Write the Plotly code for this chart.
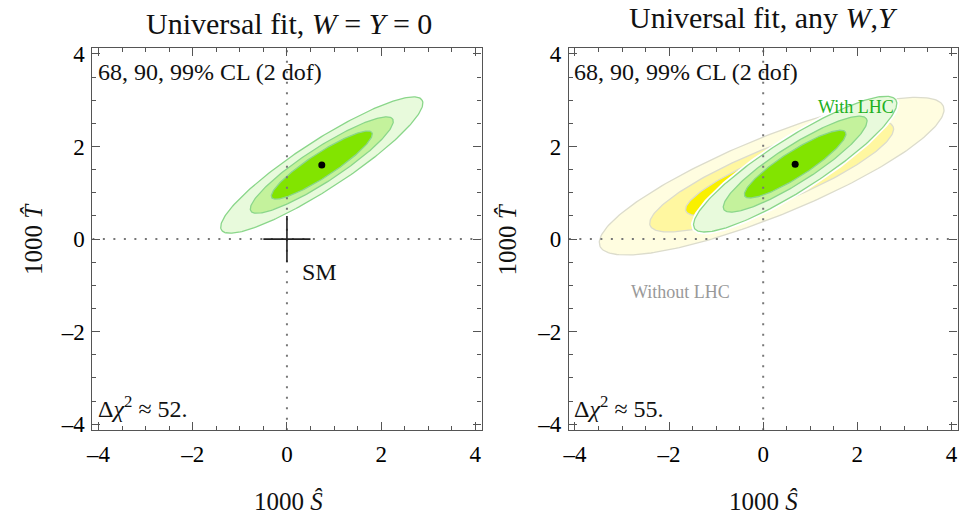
import numpy as np
import plotly.graph_objects as go

# ---------------- data ----------------
CL_LABELS = ["99%", "90%", "68%"]
DCHI2 = [9.21, 4.61, 2.30]          # 2-dof chi^2 thresholds (outer -> inner)

# left panel: W = Y = 0 fit (99% CL ellipse parameters)
FIT_L_CENTER = [0.74, 1.60]
FIT_L_AXES = [2.55, 0.52]           # semi-major, semi-minor at 99% CL
FIT_L_ANGLE = 33.5                  # degrees

# right panel: any W,Y — with LHC
FIT_R_CENTER = [0.68, 1.62]
FIT_R_AXES = [2.55, 0.56]
FIT_R_ANGLE = 33.0

# right panel: any W,Y — without LHC
NOLHC_CENTER = [0.18, 1.36]
NOLHC_AXES = [3.95, 0.85]
NOLHC_ANGLE = 22.5

SM_POINT = [0.0, 0.0]
SM_HALF = 0.5
DCHI2_SM = ["52.", "55."]
TICKS = [-4, -2, 0, 2, 4]
TICK_TEXT = ["–4", "–2", "0", "2", "4"]
RANGE = [-4.13, 4.13]

GREEN_FILLS = ["#e8fadc", "#c4f29c", "#82e400"]
GREEN_EDGE = "#8ad68a"
YELLOW_FILLS = ["#fffde0", "#fff7a0", "#f9f000"]
YELLOW_EDGE = "#dcdccc"

FONT = "Liberation Serif"
W, H = 959, 528


def ellipse(center, axes, angle, scale):
    t = np.linspace(0, 2 * np.pi, 241)
    a, b = axes[0] * scale, axes[1] * scale
    th = np.deg2rad(angle)
    x = center[0] + a * np.cos(t) * np.cos(th) - b * np.sin(t) * np.sin(th)
    y = center[1] + a * np.cos(t) * np.sin(th) + b * np.sin(t) * np.cos(th)
    return x, y


fig = go.Figure()


def add_region(center, axes, angle, fills, edge, xa, ya, halo=False):
    for i, (d, col) in enumerate(zip(DCHI2, fills)):
        s = np.sqrt(d / DCHI2[0])
        x, y = ellipse(center, axes, angle, s)
        if halo and i == 0:
            fig.add_trace(go.Scatter(x=x, y=y, mode="lines", fill="toself", fillcolor=col,
                                     line=dict(color="white", width=5), hoverinfo="skip",
                                     showlegend=False, xaxis=xa, yaxis=ya))
        fig.add_trace(go.Scatter(x=x, y=y, mode="lines", fill="toself", fillcolor=col,
                                 line=dict(color=edge, width=1.3), hoverinfo="skip",
                                 showlegend=False, xaxis=xa, yaxis=ya))


# left panel
add_region(FIT_L_CENTER, FIT_L_AXES, FIT_L_ANGLE, GREEN_FILLS, GREEN_EDGE, "x", "y")
# right panel
add_region(NOLHC_CENTER, NOLHC_AXES, NOLHC_ANGLE, YELLOW_FILLS, YELLOW_EDGE, "x2", "y2")
add_region(FIT_R_CENTER, FIT_R_AXES, FIT_R_ANGLE, GREEN_FILLS, GREEN_EDGE, "x2", "y2", halo=True)

# zero dotted lines
for xa, ya in [("x", "y"), ("x2", "y2")]:
    fig.add_trace(go.Scatter(x=[RANGE[0], RANGE[1], None, 0, 0],
                             y=[0, 0, None, RANGE[0], RANGE[1]], mode="lines",
                             line=dict(color="#777777", width=2, dash="2px,8.5px"),
                             hoverinfo="skip", showlegend=False, xaxis=xa, yaxis=ya))

# SM cross
fig.add_trace(go.Scatter(x=[SM_POINT[0] - SM_HALF, SM_POINT[0] + SM_HALF, None, SM_POINT[0], SM_POINT[0]],
                         y=[SM_POINT[1], SM_POINT[1], None, SM_POINT[1] - SM_HALF, SM_POINT[1] + SM_HALF],
                         mode="lines", line=dict(color="#222222", width=1.6),
                         hoverinfo="skip", showlegend=False, xaxis="x", yaxis="y"))

# best-fit points
fig.add_trace(go.Scatter(x=[FIT_L_CENTER[0]], y=[FIT_L_CENTER[1]], mode="markers",
                         marker=dict(color="black", size=7), showlegend=False, xaxis="x", yaxis="y"))
fig.add_trace(go.Scatter(x=[FIT_R_CENTER[0]], y=[FIT_R_CENTER[1]], mode="markers",
                         marker=dict(color="black", size=7), showlegend=False, xaxis="x2", yaxis="y2"))


def px_x(p):
    return p / W


def px_y(p):
    return 1 - p / H


axis_common = dict(range=RANGE, tickmode="array", tickvals=TICKS, ticktext=TICK_TEXT,
                   ticks="inside", ticklen=8, tickwidth=1, tickcolor="#555555",
                   showline=True, linecolor="#555555", linewidth=1.2, mirror="ticks",
                   showgrid=False, zeroline=False, fixedrange=True,
                   minor=dict(tick0=0, dtick=0.5, ticks="inside", ticklen=4, tickcolor="#555555"),
                   tickfont=dict(family=FONT, size=23, color="black"))

fig.update_layout(
    width=W, height=H, margin=dict(l=0, r=0, t=0, b=0),
    paper_bgcolor="white", plot_bgcolor="white",
    xaxis=dict(domain=[px_x(87), px_x(479)], anchor="y", ticklabelstandoff=3, **axis_common),
    yaxis=dict(domain=[px_y(435), px_y(43)], anchor="x", ticklabelstandoff=2, **axis_common),
    xaxis2=dict(domain=[px_x(567), px_x(958.5)], anchor="y2", ticklabelstandoff=3, **axis_common),
    yaxis2=dict(domain=[px_y(435), px_y(43)], anchor="x2", ticklabelstandoff=2, **axis_common),
)

ann = []


def txt(text, x, y, size, xref="paper", yref="paper", xanchor="center", color="#111", angle=0):
    ann.append(dict(text=text, x=x, y=y, xref=xref, yref=yref, xanchor=xanchor, yanchor="middle",
                    textangle=angle, showarrow=False, font=dict(family=FONT, size=size, color=color)))


# titles
txt("Universal fit, <i>W</i> = <i>Y</i> = 0", px_x(285), px_y(18), 30)
txt("Universal fit, any <i>W</i>,<i>Y</i>", px_x(763), px_y(12), 30)
# axis titles
for cx in (285, 763):
    txt("1000 <i>Ŝ</i>", px_x(cx), px_y(508), 25)
for cx in (27, 505):
    txt("1000 <i>T̂</i>", px_x(cx), px_y(239), 25, angle=-90)
# in-panel text
for i, (xa, ya) in enumerate([("x", "y"), ("x2", "y2")]):
    txt("68, 90, 99% CL (2 dof)", -4.06, 3.6, 24, xref=xa, yref=ya, xanchor="left")
    txt("Δ<i>χ</i><sup>2</sup> ≈ " + DCHI2_SM[i], -4.06, -3.62, 24, xref=xa, yref=ya, xanchor="left")
txt("SM", 0.28, -0.72, 24, xref="x", yref="y", xanchor="left")
txt("With LHC", 1.98, 2.86, 18, xref="x2", yref="y2", color="#22b022")
txt("Without LHC", -1.75, -1.14, 18, xref="x2", yref="y2", color="#999999")
fig.update_layout(annotations=ann)

fig.write_html("out.html", config={"displayModeBar": False},
               post_script="document.body.style.margin='0';document.body.style.overflow='hidden';")
